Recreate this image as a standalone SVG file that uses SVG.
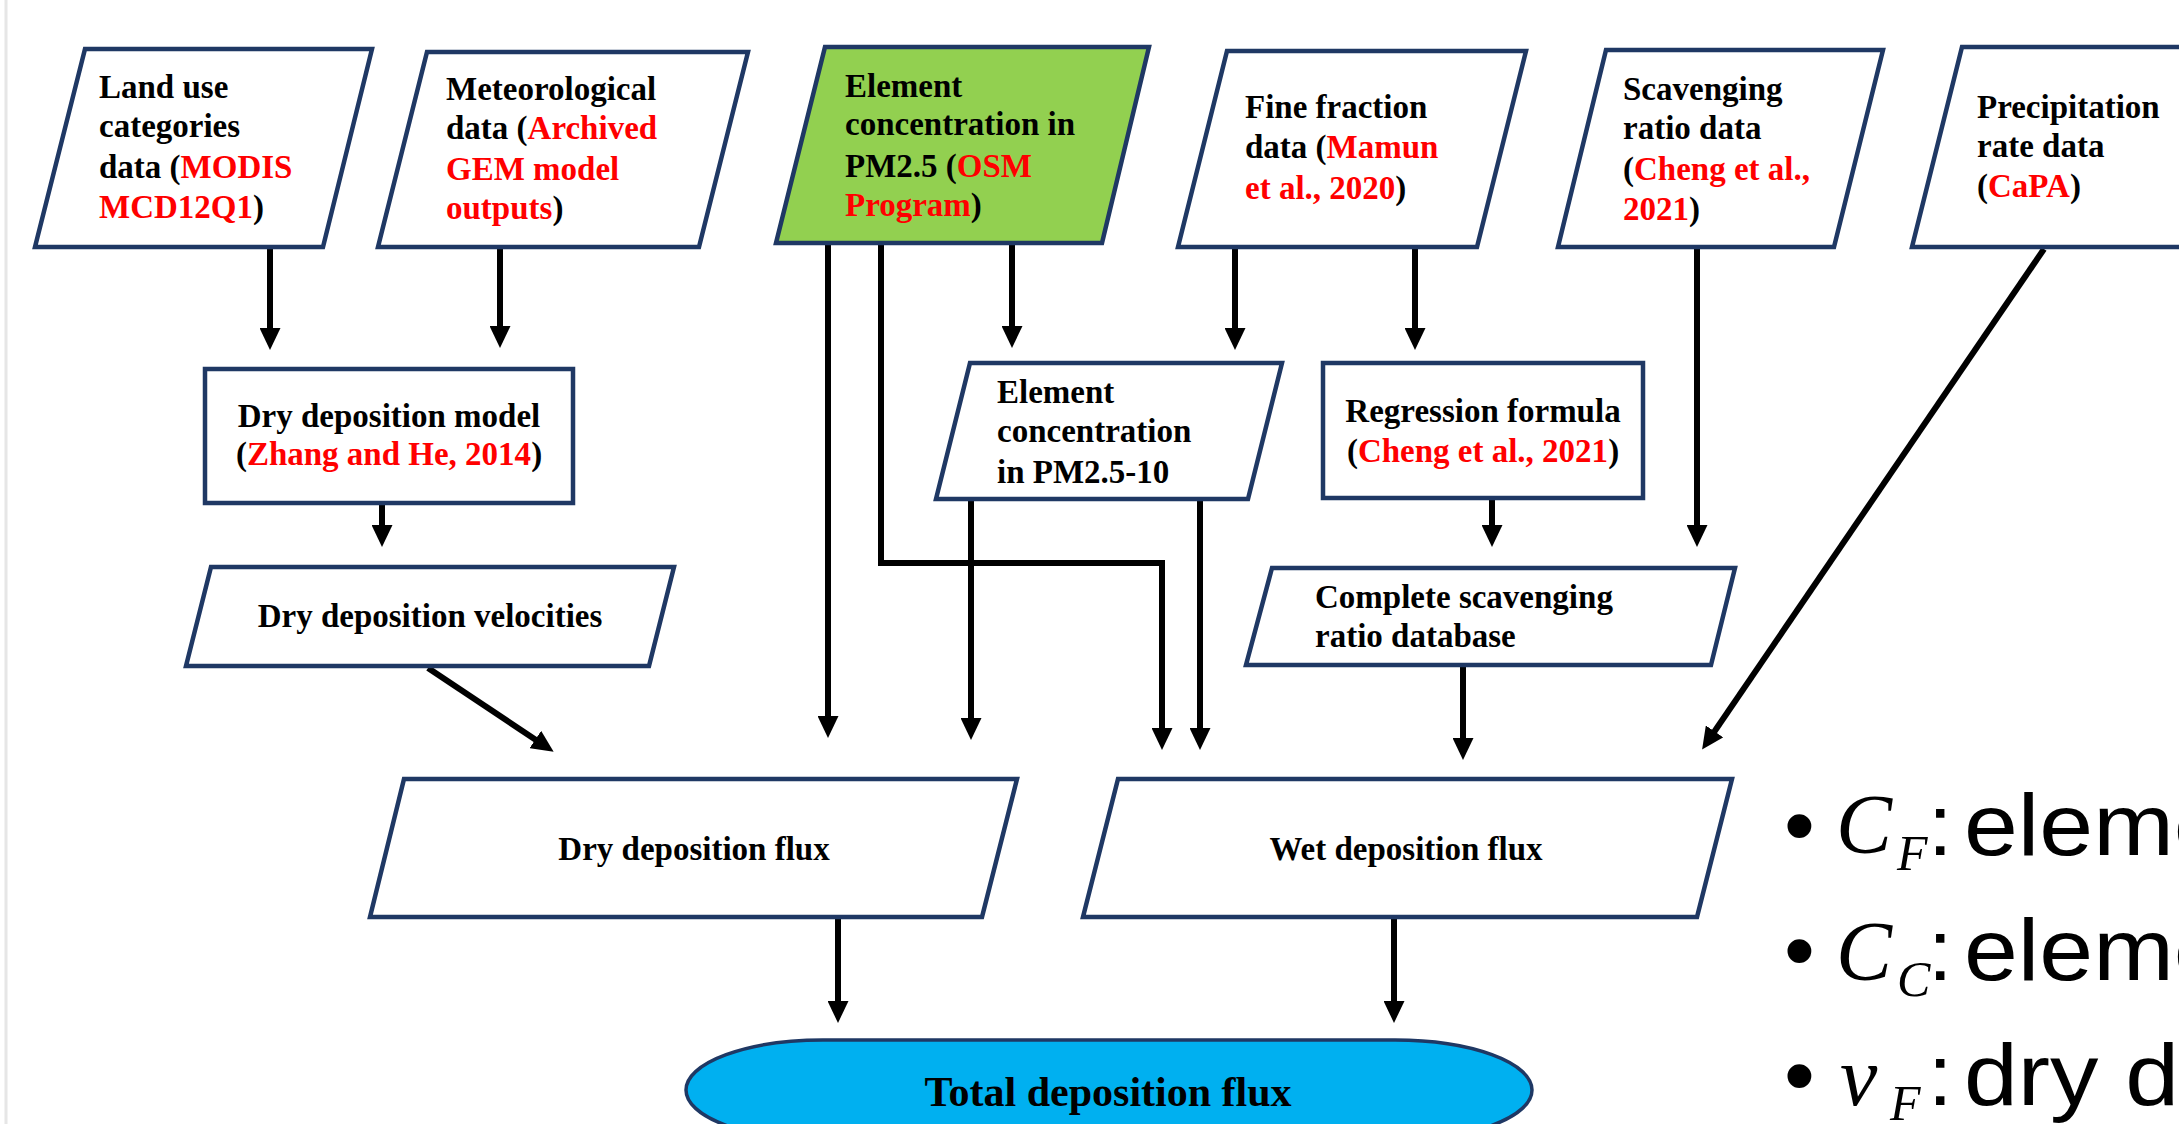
<svg xmlns="http://www.w3.org/2000/svg" width="2179" height="1124" viewBox="0 0 2179 1124">
<style>
  .nd { fill: #FFFFFF; stroke: #1F3864; stroke-width: 4.5; stroke-linejoin: miter; }
  .green { fill: #92D050; }
  .blue { fill: #00B0F0; stroke-width: 3.5; }
  .t { font-family: "Liberation Serif", "Times New Roman", serif; font-weight: bold; font-size: 33px; fill: #000000; }
  .tc { text-anchor: middle; }
  .big { font-size: 42px; }
  .r { fill: #FF0000; }
  .cn { fill: none; stroke: #000000; stroke-width: 6; marker-end: url(#ah); }
  .bul { font-family: "Liberation Sans", Arial, sans-serif; font-size: 88px; fill: #000000; }
  .math { font-family: "Liberation Serif", "Times New Roman", serif; font-style: italic; fill: #000000; }
</style>
<defs>
  <marker id="ah" markerUnits="userSpaceOnUse" markerWidth="22" markerHeight="21" refX="8" refY="10.5" orient="auto">
    <path d="M0,0 L22,10.5 L0,21 z" fill="#000000"/>
  </marker>
</defs>
<rect x="0" y="0" width="2179" height="1124" fill="#FFFFFF"/>
<line x1="6" y1="0" x2="6" y2="1124" stroke="#E6E6E6" stroke-width="3"/>

<g id="connectors">
  <path class="cn" d="M270,249 V336"/>
  <path class="cn" d="M500,249 V334"/>
  <path class="cn" d="M382,505 V533"/>
  <path class="cn" d="M428,668 L542,744"/>
  <path class="cn" d="M828,245 V724"/>
  <path class="cn" d="M881,245 V563 H1162 V736"/>
  <path class="cn" d="M1012,245 V334"/>
  <path class="cn" d="M971,501 V726"/>
  <path class="cn" d="M1200,501 V736"/>
  <path class="cn" d="M1235,249 V336"/>
  <path class="cn" d="M1415,249 V336"/>
  <path class="cn" d="M1697,249 V533"/>
  <path class="cn" d="M1492,500 V533"/>
  <path class="cn" d="M1463,667 V746"/>
  <path class="cn" d="M2044,249 L1710,738"/>
  <path class="cn" d="M838,919 V1009"/>
  <path class="cn" d="M1394,919 V1009"/>
</g>

<g id="n-landuse">
  <polygon class="nd" points="85,49 372,49 323,247 35,247"/>
  <text class="t" x="99" y="98">Land use</text>
  <text class="t" x="99" y="137">categories</text>
  <text class="t" x="99" y="178">data (<tspan class="r">MODIS</tspan></text>
  <text class="t" x="99" y="218"><tspan class="r">MCD12Q1</tspan>)</text>
</g>

<g id="n-meteo">
  <polygon class="nd" points="427,52 748,52 699,247 378,247"/>
  <text class="t" x="446" y="100">Meteorological</text>
  <text class="t" x="446" y="139">data (<tspan class="r">Archived</tspan></text>
  <text class="t" x="446" y="180"><tspan class="r">GEM model</tspan></text>
  <text class="t" x="446" y="219"><tspan class="r">outputs</tspan>)</text>
</g>

<g id="n-pm25">
  <polygon class="nd green" points="825,47 1149,47 1102,243 776,243"/>
  <text class="t" x="845" y="97">Element</text>
  <text class="t" x="845" y="135">concentration in</text>
  <text class="t" x="845" y="177">PM2.5 (<tspan class="r">OSM</tspan></text>
  <text class="t" x="845" y="216"><tspan class="r">Program</tspan>)</text>
</g>

<g id="n-fine">
  <polygon class="nd" points="1227,51 1526,51 1477,247 1178,247"/>
  <text class="t" x="1245" y="118">Fine fraction</text>
  <text class="t" x="1245" y="158">data (<tspan class="r">Mamun</tspan></text>
  <text class="t" x="1245" y="199"><tspan class="r">et al., 2020</tspan>)</text>
</g>

<g id="n-scav">
  <polygon class="nd" points="1606,50 1883,50 1834,247 1558,247"/>
  <text class="t" x="1623" y="100">Scavenging</text>
  <text class="t" x="1623" y="139">ratio data</text>
  <text class="t" x="1623" y="180">(<tspan class="r">Cheng et al.,</tspan></text>
  <text class="t" x="1623" y="220"><tspan class="r">2021</tspan>)</text>
</g>

<g id="n-precip">
  <polygon class="nd" points="1962,47 2262,47 2212,247 1912,247"/>
  <text class="t" x="1977" y="118">Precipitation</text>
  <text class="t" x="1977" y="157">rate data</text>
  <text class="t" x="1977" y="197">(<tspan class="r">CaPA</tspan>)</text>
</g>

<g id="n-drymodel">
  <rect class="nd" x="205" y="369" width="368" height="134"/>
  <text class="t tc" x="389" y="427">Dry deposition model</text>
  <text class="t tc" x="389" y="465">(<tspan class="r">Zhang and He, 2014</tspan>)</text>
</g>

<g id="n-velocities">
  <polygon class="nd" points="211,567 674,567 649,666 186,666"/>
  <text class="t tc" x="430" y="627">Dry deposition velocities</text>
</g>

<g id="n-pm2510">
  <polygon class="nd" points="970,363 1282,363 1248,499 936,499"/>
  <text class="t" x="997" y="403">Element</text>
  <text class="t" x="997" y="442">concentration</text>
  <text class="t" x="997" y="483">in PM2.5-10</text>
</g>

<g id="n-regression">
  <rect class="nd" x="1323" y="363" width="320" height="135"/>
  <text class="t tc" x="1483" y="422">Regression formula</text>
  <text class="t tc" x="1483" y="462">(<tspan class="r">Cheng et al., 2021</tspan>)</text>
</g>

<g id="n-complete">
  <polygon class="nd" points="1272,568 1735,568 1711,665 1246,665"/>
  <text class="t" x="1315" y="608">Complete scavenging</text>
  <text class="t" x="1315" y="647">ratio database</text>
</g>

<g id="n-dryflux">
  <polygon class="nd" points="404,779 1017,779 982,917 370,917"/>
  <text class="t tc" x="694" y="860">Dry deposition flux</text>
</g>

<g id="n-wetflux">
  <polygon class="nd" points="1118,779 1732,779 1697,917 1083,917"/>
  <text class="t tc" x="1406" y="860">Wet deposition flux</text>
</g>

<g id="n-total">
  <rect class="nd blue" x="686" y="1040" width="846" height="100" rx="137" ry="50"/>
  <text class="t tc big" x="1108" y="1106">Total deposition flux</text>
</g>

<g id="bullets">
  <text class="bul" x="1784" y="855">•</text>
  <text class="math" x="1836" y="853" font-size="84">C</text>
  <text class="math" x="1897" y="870" font-size="50">F</text>
  <text class="bul" x="1928" y="855">:</text>
  <text class="bul" transform="translate(1964,855) scale(1.1,1)">eleme</text>

  <text class="bul" x="1784" y="980">•</text>
  <text class="math" x="1836" y="980" font-size="84">C</text>
  <text class="math" x="1897" y="996" font-size="50">C</text>
  <text class="bul" x="1928" y="980">:</text>
  <text class="bul" transform="translate(1964,980) scale(1.1,1)">eleme</text>

  <text class="bul" x="1784" y="1105">•</text>
  <text class="math" x="1840" y="1105" font-size="84">v</text>
  <text class="math" x="1890" y="1120" font-size="50">F</text>
  <text class="bul" x="1928" y="1105">:</text>
  <text class="bul" transform="translate(1964,1105) scale(1.1,1)">dry d</text>
</g>
</svg>
